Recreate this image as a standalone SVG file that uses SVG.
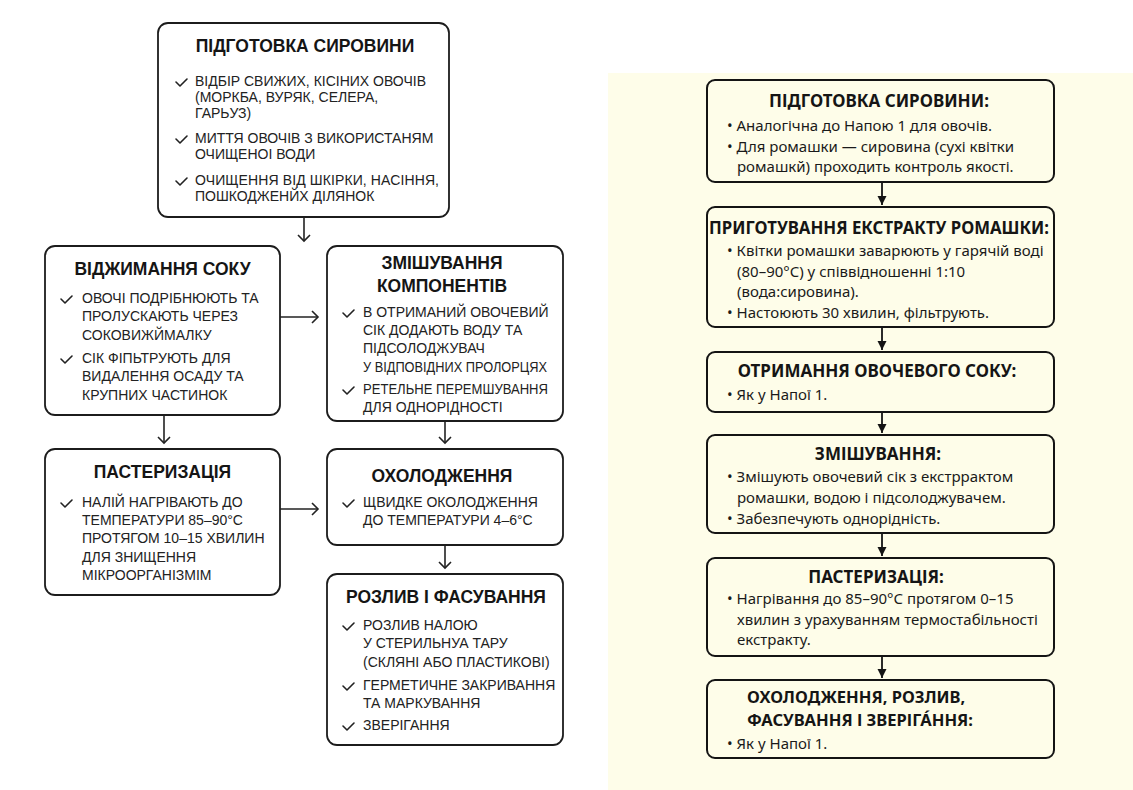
<svg xmlns="http://www.w3.org/2000/svg" xmlns:xlink="http://www.w3.org/1999/xlink" width="1133" height="790" viewBox="0 0 1133 790">
<style>
.box{fill:#fff;stroke:#1c1c1c;stroke-width:1.8}
.t{font-family:"Liberation Sans",Arial,sans-serif;font-weight:bold;font-size:17.5px;text-anchor:middle;fill:#151515}
.b{font-family:"Liberation Sans",Arial,sans-serif;font-size:14px;fill:#222}
.rbox{fill:#fefde9;stroke:#141414;stroke-width:2}
.rt{font-family:"Noto Sans","DejaVu Sans",sans-serif;font-weight:bold;font-size:17px;text-anchor:middle;fill:#151515}
.rtl{font-family:"Noto Sans","DejaVu Sans",sans-serif;font-weight:bold;font-size:16.5px;fill:#151515}
.rb{font-family:"Noto Sans","DejaVu Sans",sans-serif;font-size:15px;fill:#1a1a1a}
.ln{fill:none;stroke:#222;stroke-width:1.6}
.rln{fill:none;stroke:#141414;stroke-width:1.8}
</style>
<defs>
<path id="chk" d="M0,-4 L4,0 L11,-7" fill="none" stroke="#222" stroke-width="1.6" stroke-linecap="round" stroke-linejoin="round"/>
<marker id="ah" markerUnits="userSpaceOnUse" markerWidth="14" markerHeight="14" refX="10" refY="7" orient="auto">
<path d="M4,1 L10,7 L4,13" fill="none" stroke="#222" stroke-width="1.6"/>
</marker>
<marker id="rah" markerUnits="userSpaceOnUse" markerWidth="10" markerHeight="10" refX="9" refY="4.5" orient="auto">
<path d="M0,0 L9,4.5 L0,9 z" fill="#141414"/>
</marker>
</defs>
<rect x="0" y="0" width="1133" height="790" fill="#fff"/>
<rect x="608" y="73" width="525" height="717" fill="#fefde9"/>

<g id="connectors">
<line class="ln" x1="304" y1="217" x2="304" y2="241" marker-end="url(#ah)"/>
<line class="ln" x1="164" y1="415" x2="164" y2="443" marker-end="url(#ah)"/>
<line class="ln" x1="445" y1="421" x2="445" y2="443" marker-end="url(#ah)"/>
<line class="ln" x1="445" y1="545" x2="445" y2="568" marker-end="url(#ah)"/>
<line class="ln" x1="280" y1="317" x2="318" y2="317" marker-end="url(#ah)"/>
<line class="ln" x1="280" y1="509" x2="318" y2="509" marker-end="url(#ah)"/>
<line class="rln" x1="882" y1="182" x2="882" y2="205" marker-end="url(#rah)"/>
<line class="rln" x1="882" y1="327" x2="882" y2="350" marker-end="url(#rah)"/>
<line class="rln" x1="882" y1="412" x2="882" y2="433" marker-end="url(#rah)"/>
<line class="rln" x1="882" y1="533" x2="882" y2="556" marker-end="url(#rah)"/>
<line class="rln" x1="882" y1="656" x2="882" y2="678" marker-end="url(#rah)"/>
</g>

<g id="l1">
<rect class="box" x="158" y="23" width="291" height="194" rx="10"/>
<text class="t" x="305" y="52">ПІДГОТОВКА СИРОВИНИ</text>
<use xlink:href="#chk" x="176" y="86"/>
<text class="b" x="195" y="86">ВІДБІР СВИЖИХ, КІСІНИХ ОВОЧІВ</text>
<text class="b" x="195" y="102">(МОРКБА, ВУРЯК, СЕЛЕРА,</text>
<text class="b" x="195" y="118">ГАРЬУЗ)</text>
<use xlink:href="#chk" x="176" y="143"/>
<text class="b" x="195" y="143">МИТТЯ ОВОЧІВ З ВИКОРИСТАНЯМ</text>
<text class="b" x="195" y="159">ОЧИЩЕНОІ ВОДИ</text>
<use xlink:href="#chk" x="176" y="185"/>
<text class="b" x="195" y="185" textLength="244" lengthAdjust="spacing">ОЧИЩЕННЯ ВІД ШКІРКИ, НАСІННЯ,</text>
<text class="b" x="195" y="201">ПОШКОДЖЕНЙХ ДІЛЯНОК</text>
</g>

<g id="l2">
<rect class="box" x="45" y="246" width="235" height="169" rx="10"/>
<text class="t" x="162.5" y="275">ВІДЖИМАННЯ СОКУ</text>
<use xlink:href="#chk" x="61" y="303"/>
<text class="b" x="82" y="303">ОВОЧІ ПОДРІБНЮЮТЬ ТА</text>
<text class="b" x="82" y="321">ПРОЛУСКАЮТЬ ЧЕРЕЗ</text>
<text class="b" x="82" y="340">СОКОВИЖЙМАЛКУ</text>
<use xlink:href="#chk" x="61" y="363"/>
<text class="b" x="82" y="363">СІК ФІПЬТРУЮТЬ ДЛЯ</text>
<text class="b" x="82" y="381">ВИДАЛЕННЯ ОСАДУ ТА</text>
<text class="b" x="82" y="400">КРУПНИХ ЧАСТИНОК</text>
</g>

<g id="l3">
<rect class="box" x="327" y="246" width="236" height="175" rx="10"/>
<text class="t" x="442" y="269">ЗМІШУВАННЯ</text>
<text class="t" x="442" y="292">КОМПОНЕНТІВ</text>
<use xlink:href="#chk" x="343" y="317"/>
<text class="b" x="363" y="317">В ОТРИМАНИЙ ОВОЧЕВИЙ</text>
<text class="b" x="363" y="335">СІК ДОДАЮТЬ ВОДУ ТА</text>
<text class="b" x="363" y="353">ПІДСОЛОДЖУВАЧ</text>
<text class="b" x="363" y="372" textLength="184" lengthAdjust="spacingAndGlyphs">У ВІДПОВІДНИХ ПРОЛОРЦЯХ</text>
<use xlink:href="#chk" x="343" y="394"/>
<text class="b" x="363" y="394" textLength="185" lengthAdjust="spacingAndGlyphs">РЕТЕЛЬНЕ ПЕРЕМШУВАННЯ</text>
<text class="b" x="363" y="412">ДЛЯ ОДНОРІДНОСТІ</text>
</g>

<g id="l4">
<rect class="box" x="45" y="449" width="235" height="146" rx="10"/>
<text class="t" x="162.5" y="478">ПАСТЕРИЗАЦІЯ</text>
<use xlink:href="#chk" x="61" y="507"/>
<text class="b" x="82" y="507">НАЛІЙ НАГРІВАЮТЬ ДО</text>
<text class="b" x="82" y="525">ТЕМПЕРАТУРИ 85–90°С</text>
<text class="b" x="82" y="543">ПРОТЯГОМ 10–15 ХВИЛИН</text>
<text class="b" x="82" y="562">ДЛЯ ЗНИЩЕННЯ</text>
<text class="b" x="82" y="580">МІКРООРГАНІЗМІМ</text>
</g>

<g id="l5">
<rect class="box" x="327" y="449" width="236" height="96" rx="10"/>
<text class="t" x="442" y="482">ОХОЛОДЖЕННЯ</text>
<use xlink:href="#chk" x="343" y="507"/>
<text class="b" x="363" y="507">ЩВИДКЕ ОКОЛОДЖЕННЯ</text>
<text class="b" x="363" y="525">ДО ТЕМПЕРАТУРИ 4–6°С</text>
</g>

<g id="l6">
<rect class="box" x="327" y="574" width="236" height="171" rx="10"/>
<text class="t" x="446" y="603">РОЗЛИВ І ФАСУВАННЯ</text>
<use xlink:href="#chk" x="343" y="630"/>
<text class="b" x="363" y="630">РОЗЛИВ НАЛОЮ</text>
<text class="b" x="363" y="648">У СТЕРИЛЬНУА ТАРУ</text>
<text class="b" x="363" y="667">(СКЛЯНІ АБО ПЛАСТИКОВІ)</text>
<use xlink:href="#chk" x="343" y="690"/>
<text class="b" x="363" y="690">ГЕРМЕТИЧНЕ ЗАКРИВАННЯ</text>
<text class="b" x="363" y="708">ТА МАРКУВАННЯ</text>
<use xlink:href="#chk" x="343" y="730"/>
<text class="b" x="363" y="730">ЗВЕРІГАННЯ</text>
</g>

<g id="r1">
<rect class="rbox" x="707" y="80" width="347" height="102" rx="8"/>
<text class="rt" x="879" y="107">ПІДГОТОВКА СИРОВИНИ:</text>
<text class="rb" x="727" y="131">• Аналогічна до Напою 1 для овочів.</text>
<text class="rb" x="727" y="151.5">• Для ромашки — сировина (сухі квітки</text>
<text class="rb" x="737" y="172">ромашкй) проходить контроль якості.</text>
</g>

<g id="r2">
<rect class="rbox" x="707" y="207" width="347" height="120" rx="8"/>
<text class="rt" x="879" y="234" textLength="340" lengthAdjust="spacingAndGlyphs">ПРИГОТУВАННЯ ЕКСТРАКТУ РОМАШКИ:</text>
<text class="rb" x="727" y="256">• Квітки ромашки заварюють у гарячій воді</text>
<text class="rb" x="737" y="276.5">(80–90°C) у співвідношенні 1:10</text>
<text class="rb" x="737" y="297">(вода:сировина).</text>
<text class="rb" x="727" y="317.5">• Настоюють 30 хвилин, фільтрують.</text>
</g>

<g id="r3">
<rect class="rbox" x="707" y="352" width="347" height="60" rx="8"/>
<text class="rt" x="877" y="377">ОТРИМАННЯ ОВОЧЕВОГО СОКУ:</text>
<text class="rb" x="727" y="400">• Як у Напої 1.</text>
</g>

<g id="r4">
<rect class="rbox" x="707" y="435" width="347" height="98" rx="8"/>
<text class="rt" x="878" y="460">ЗМІШУВАННЯ:</text>
<text class="rb" x="727" y="482">• Змішують овочевий сік з екстррактом</text>
<text class="rb" x="737" y="502.5">ромашки, водою і підсолоджувачем.</text>
<text class="rb" x="727" y="524">• Забезпечують однорідність.</text>
</g>

<g id="r5">
<rect class="rbox" x="707" y="558" width="347" height="98" rx="8"/>
<text class="rt" x="876" y="583">ПАСТЕРИЗАЦІЯ:</text>
<text class="rb" x="727" y="604">• Нагрівання до 85–90°C протягом 0–15</text>
<text class="rb" x="737" y="624.5">хвилин з урахуванням термостабільності</text>
<text class="rb" x="737" y="645">екстракту.</text>
</g>

<g id="r6">
<rect class="rbox" x="707" y="680" width="347" height="78" rx="8"/>
<text class="rtl" x="747" y="703">ОХОЛОДЖЕННЯ, РОЗЛИВ,</text>
<text class="rtl" x="747" y="726">ФАСУВАННЯ І ЗВЕРІГА́ННЯ:</text>
<text class="rb" x="727" y="749">• Як у Напої 1.</text>
</g>
</svg>
